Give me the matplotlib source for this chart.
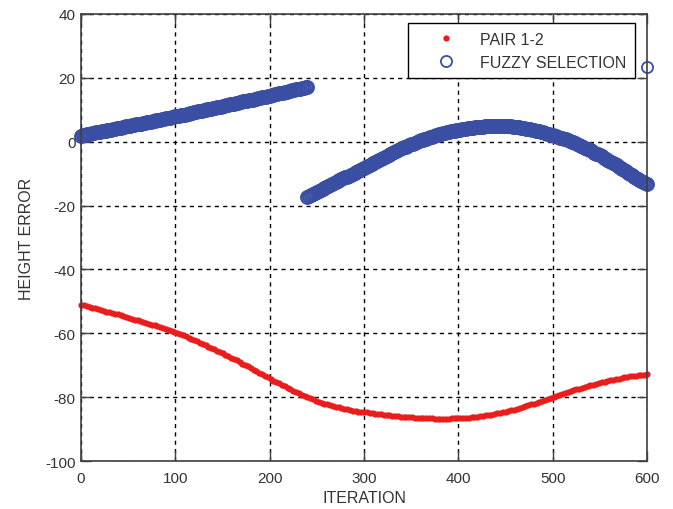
import numpy as np
import matplotlib
matplotlib.use('Agg')
import matplotlib.pyplot as plt

plt.rcParams['font.family'] = ['Liberation Sans', 'DejaVu Sans']
plt.rcParams['axes.unicode_minus'] = False

# PAIR 1-2 height error, every 3rd iteration (0..600)
pair_iter = np.arange(0, 601, 3)
pair_err = [
    -51.0, -51.2, -51.5, -51.7, -52.0, -52.2, -52.4, -52.7, -52.9, -53.2,
    -53.4, -53.7, -53.9, -54.1, -54.4, -54.6, -54.9, -55.2, -55.4, -55.7,
    -55.9, -56.2, -56.5, -56.7, -57.0, -57.3, -57.5, -57.8, -58.1, -58.4,
    -58.7, -59.0, -59.3, -59.6, -59.9, -60.3, -60.6, -61.0, -61.4, -61.7,
    -62.1, -62.5, -62.9, -63.4, -63.8, -64.2, -64.6, -65.0, -65.5, -65.9,
    -66.3, -66.7, -67.2, -67.6, -68.1, -68.5, -69.0, -69.5, -69.9, -70.4,
    -70.9, -71.4, -71.9, -72.3, -72.8, -73.3, -73.8, -74.3, -74.8, -75.2,
    -75.7, -76.2, -76.6, -77.1, -77.6, -78.0, -78.4, -78.8, -79.2, -79.6,
    -80.0, -80.4, -80.7, -81.1, -81.4, -81.7, -82.0, -82.3, -82.5, -82.8,
    -83.0, -83.2, -83.5, -83.7, -83.8, -84.0, -84.2, -84.3, -84.5, -84.6,
    -84.7, -84.8, -85.0, -85.1, -85.2, -85.3, -85.4, -85.5, -85.6, -85.7,
    -85.8, -85.9, -86.0, -86.1, -86.1, -86.2, -86.3, -86.3, -86.4, -86.4,
    -86.5, -86.5, -86.6, -86.6, -86.6, -86.7, -86.7, -86.7, -86.7, -86.7,
    -86.7, -86.6, -86.6, -86.6, -86.5, -86.5, -86.4, -86.4, -86.3, -86.2,
    -86.1, -86.0, -85.9, -85.7, -85.6, -85.5, -85.3, -85.1, -85.0, -84.8,
    -84.6, -84.4, -84.1, -83.9, -83.7, -83.4, -83.2, -82.9, -82.6, -82.3,
    -82.0, -81.7, -81.4, -81.1, -80.8, -80.5, -80.2, -79.9, -79.6, -79.3,
    -79.0, -78.7, -78.4, -78.1, -77.8, -77.6, -77.3, -77.0, -76.8, -76.5,
    -76.3, -76.1, -75.8, -75.6, -75.3, -75.1, -74.9, -74.7, -74.5, -74.3,
    -74.2, -74.0, -73.8, -73.7, -73.5, -73.4, -73.3, -73.1, -73.0, -73.0,
    -72.9,
]

# fuzzy selection, first branch, every 2nd iteration (0..240)
fuzzy_iter_a = np.arange(0, 241, 2)
fuzzy_err_a = [
    1.9, 2.0, 2.1, 2.3, 2.4, 2.5, 2.6, 2.7, 2.9, 3.0,
    3.1, 3.2, 3.3, 3.5, 3.6, 3.7, 3.8, 3.9, 4.1, 4.2,
    4.3, 4.4, 4.5, 4.7, 4.8, 4.9, 5.0, 5.1, 5.3, 5.4,
    5.5, 5.6, 5.7, 5.9, 6.0, 6.1, 6.2, 6.3, 6.5, 6.6,
    6.7, 6.8, 6.9, 7.1, 7.2, 7.3, 7.4, 7.5, 7.7, 7.8,
    7.9, 8.0, 8.2, 8.3, 8.4, 8.5, 8.7, 8.8, 8.9, 9.1,
    9.2, 9.3, 9.5, 9.6, 9.7, 9.8, 10.0, 10.1, 10.2, 10.4,
    10.5, 10.6, 10.8, 10.9, 11.0, 11.2, 11.3, 11.4, 11.5, 11.7,
    11.8, 11.9, 12.1, 12.2, 12.3, 12.5, 12.6, 12.7, 12.8, 13.0,
    13.1, 13.2, 13.4, 13.5, 13.6, 13.8, 13.9, 14.0, 14.1, 14.3,
    14.4, 14.5, 14.7, 14.8, 15.0, 15.1, 15.2, 15.4, 15.5, 15.7,
    15.8, 15.9, 16.1, 16.2, 16.4, 16.5, 16.6, 16.8, 16.9, 17.1,
    17.2,
]

# fuzzy selection, second branch, every 2nd iteration (240..600)
fuzzy_iter_b = np.arange(240, 601, 2)
fuzzy_err_b = [
    -17.2, -16.9, -16.6, -16.3, -16.0, -15.7, -15.4, -15.1, -14.8, -14.5,
    -14.1, -13.8, -13.5, -13.2, -12.9, -12.6, -12.3, -12.0, -11.8, -11.5,
    -11.2, -10.9, -10.6, -10.3, -10.1, -9.8, -9.5, -9.2, -8.9, -8.6,
    -8.3, -8.0, -7.7, -7.4, -7.1, -6.7, -6.4, -6.1, -5.8, -5.5,
    -5.1, -4.8, -4.5, -4.2, -3.9, -3.6, -3.3, -3.0, -2.7, -2.4,
    -2.1, -1.8, -1.6, -1.3, -1.1, -0.8, -0.6, -0.3, -0.1, 0.2,
    0.4, 0.6, 0.8, 1.0, 1.2, 1.4, 1.6, 1.8, 2.0, 2.1,
    2.3, 2.5, 2.6, 2.8, 2.9, 3.1, 3.2, 3.4, 3.5, 3.6,
    3.7, 3.8, 3.9, 4.0, 4.1, 4.2, 4.3, 4.3, 4.4, 4.5,
    4.6, 4.6, 4.7, 4.7, 4.8, 4.8, 4.8, 4.9, 4.9, 4.9,
    4.9, 4.9, 4.9, 4.9, 4.9, 4.9, 4.9, 4.8, 4.8, 4.7,
    4.6, 4.5, 4.5, 4.4, 4.3, 4.2, 4.1, 4.0, 3.9, 3.7,
    3.6, 3.5, 3.3, 3.2, 3.0, 2.9, 2.7, 2.5, 2.4, 2.2,
    2.1, 1.9, 1.7, 1.5, 1.3, 1.1, 0.9, 0.7, 0.5, 0.2,
    0.0, -0.2, -0.5, -0.8, -1.0, -1.3, -1.6, -1.9, -2.2, -2.4,
    -2.7, -3.0, -3.4, -3.7, -4.0, -4.3, -4.6, -5.0, -5.3, -5.7,
    -6.0, -6.4, -6.7, -7.1, -7.4, -7.8, -8.2, -8.6, -9.0, -9.3,
    -9.7, -10.1, -10.5, -10.9, -11.3, -11.7, -12.0, -12.3, -12.7, -13.0,
    -13.3,
]

# single stray selection at the last iteration
stray_iter = [600]
stray_err = [23.5]

red = '#ea1c1c'
blue = '#3a4ea3'

fig = plt.figure(figsize=(6.73, 5.10), dpi=100)
ax = fig.add_axes([0.1204, 0.0941, 0.8410, 0.8765])

ax.plot(pair_iter, pair_err, linestyle='none', marker='o', ms=4.5,
        mec='none', mfc=red, label='PAIR 1-2', clip_on=False)
band = dict(linestyle='none', marker='o', ms=9, mfc='none', mec=blue,
            mew=1.7, clip_on=False)
ax.plot(fuzzy_iter_a, fuzzy_err_a, label='FUZZY SELECTION', **band)
ax.plot(fuzzy_iter_b, fuzzy_err_b, **band)
ax.plot(stray_iter, stray_err, linestyle='none', marker='o', ms=8,
        mfc='none', mec=blue, mew=1.3, clip_on=False)

ax.set_xlim(0, 600)
ax.set_ylim(-100, 40)
ax.set_xticks(np.arange(0, 601, 100))
ax.set_yticks(np.arange(-100, 41, 20))

ax.grid(True, color='black', linestyle=(0, (3, 3)), linewidth=1.0)
ax.set_axisbelow(True)

for s in ax.spines.values():
    s.set_color('#404040')
    s.set_linewidth(1.2)
ax.tick_params(direction='in', length=7, width=1.0, color='#404040',
               top=True, right=True, labelsize=11, labelcolor='#333333')
ax.tick_params(axis='x', pad=7)
ax.tick_params(axis='y', pad=4)

ax.set_xlabel('ITERATION', fontsize=11.5, color='#333333', labelpad=4)
ax.set_ylabel('HEIGHT ERROR', fontsize=11.5, color='#333333', labelpad=8)

leg = ax.legend(loc='upper right', bbox_to_anchor=(0.979, 0.980),
                borderaxespad=0, fancybox=False, framealpha=1,
                edgecolor='black', fontsize=11.5, numpoints=1,
                handlelength=3.6, handletextpad=0.35, borderpad=0.55,
                labelspacing=0.5)
leg.get_frame().set_linewidth(1.0)
# legend circle drawn like a single selection, not the thick band
leg.legend_handles[1].set_markersize(8)
leg.legend_handles[1].set_markeredgewidth(1.3)
for t in leg.get_texts():
    t.set_color('#333333')

fig.savefig('out.png', dpi=100)
